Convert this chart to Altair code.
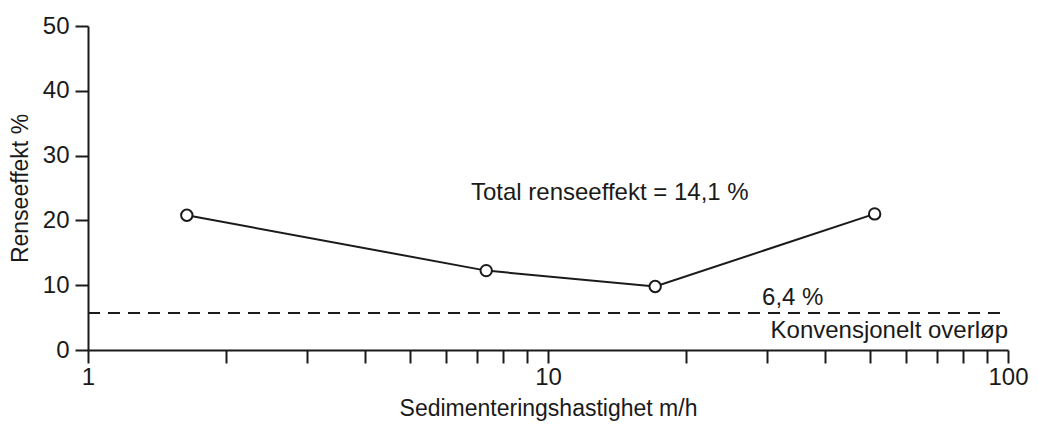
import altair as alt
import pandas as pd

# Data
speed = [1.64, 7.34, 17.1, 51.3]          # m/h
effect = [20.8, 12.25, 9.8, 21.0]         # %
conventional = 5.7                         # dashed line level
x_ticks = [1, 2, 3, 4, 5, 6, 7, 8, 9, 10, 20, 30, 40, 50, 60, 70, 80, 90, 100]
y_ticks = [0, 10, 20, 30, 40, 50]

ann_text = ["Total renseeffekt = 14,1 %", "6,4 %", "Konvensjonelt overløp"]
ann_x = [6.8, 29.2, 100]
ann_y = [24.2, 8.1, 3.0]
ann_align = ["left", "left", "right"]

FONT = "Liberation Sans"
INK = "#1a1a1a"

df = pd.DataFrame({"x": speed, "y": effect})
dash_df = pd.DataFrame({"x": [1], "x2": [99], "y": [conventional]})
ann_df = pd.DataFrame({"t": ann_text, "x": ann_x, "y": ann_y, "a": ann_align})

xscale = alt.Scale(type="log", domain=[1, 100], nice=False)
yscale = alt.Scale(domain=[0, 50], nice=False)

xaxis = alt.Axis(
    values=x_ticks,
    labelExpr="(datum.value == 1 || datum.value == 10 || datum.value == 100) ? datum.label : ''",
    format="d",
    title="Sedimenteringshastighet m/h",
    tickSize=13, labelPadding=2, titlePadding=8,
    labelFontSize=24, titleFontSize=23, labelFont=FONT, titleFont=FONT,
    titleFontWeight="normal", labelColor=INK, titleColor=INK,
    domainColor=INK, tickColor=INK, domainWidth=2, tickWidth=2,
    grid=False, labelFlush=False,
)
yaxis = alt.Axis(
    values=y_ticks,
    title="Renseeffekt %",
    tickSize=13, labelPadding=6, titlePadding=10,
    labelFontSize=24, titleFontSize=23, labelFont=FONT, titleFont=FONT,
    titleFontWeight="normal", labelColor=INK, titleColor=INK,
    domainColor=INK, tickColor=INK, domainWidth=2, tickWidth=2,
    grid=False,
)

base = alt.Chart(df)

line = base.mark_line(color=INK, strokeWidth=2).encode(
    x=alt.X("x:Q", scale=xscale, axis=xaxis),
    y=alt.Y("y:Q", scale=yscale, axis=yaxis),
)
points = base.mark_point(shape="circle", size=130, filled=True, fill="white",
                         stroke=INK, strokeWidth=2, opacity=1).encode(
    x=alt.X("x:Q", scale=xscale),
    y=alt.Y("y:Q", scale=yscale),
)
dash = alt.Chart(dash_df).mark_rule(color=INK, strokeWidth=2, strokeDash=[12, 8]).encode(
    x=alt.X("x:Q", scale=xscale),
    x2="x2:Q",
    y=alt.Y("y:Q", scale=yscale),
)
ann_left = alt.Chart(ann_df[ann_df.a == "left"]).mark_text(
    align="left", baseline="middle", font=FONT, fontSize=24, color=INK
).encode(x=alt.X("x:Q", scale=xscale), y=alt.Y("y:Q", scale=yscale), text="t:N")
ann_right = alt.Chart(ann_df[ann_df.a == "right"]).mark_text(
    align="right", baseline="middle", font=FONT, fontSize=24, color=INK
).encode(x=alt.X("x:Q", scale=xscale), y=alt.Y("y:Q", scale=yscale), text="t:N")

chart = alt.layer(dash, line, points, ann_left, ann_right).properties(
    width=920, height=324,
    autosize=alt.AutoSizeParams(type="none"),
    padding={"left": 80, "top": 18, "right": 22, "bottom": 76},
    background="white",
).configure_view(stroke=None)

chart.save("out.html", embed_options={"renderer": "svg", "actions": False})
